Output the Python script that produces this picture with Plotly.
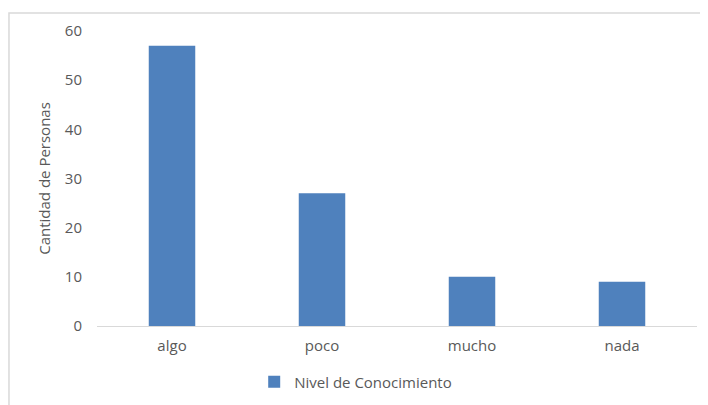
import plotly.graph_objects as go

categories = ["algo", "poco", "mucho", "nada"]
values = [57, 27, 10, 9]
series_name = "Nivel de Conocimiento"
y_title = "Cantidad de Personas"

gray = "#595959"
fs = 15
fig = go.Figure()
fig.add_trace(go.Bar(
    x=categories, y=values, name=series_name,
    marker=dict(color="#4f81bd", line=dict(width=0)),
    width=0.31, showlegend=True,
))

fig.update_layout(
    width=700, height=397,
    margin=dict(l=89, r=11, t=23, b=79, autoexpand=False),
    paper_bgcolor="white", plot_bgcolor="white",
    font=dict(family="'Open Sans', sans-serif", size=fs, color=gray),
    showlegend=True,
    legend=dict(orientation="h", x=0.262, xanchor="left", y=-0.19, yanchor="middle",
                font=dict(size=fs, color=gray), itemwidth=30, bgcolor="rgba(0,0,0,0)"),
    xaxis=dict(showline=True, linecolor="#d9d9d9", linewidth=1, ticks="", automargin=False,
               showgrid=False, tickfont=dict(size=fs, color=gray), ticklabelstandoff=6),
    yaxis=dict(range=[0, 60], dtick=10, showgrid=False, zeroline=False, showline=False,
               automargin=False,
               tickfont=dict(size=fs, color=gray), ticklabelstandoff=14,
               title=dict(text=y_title, font=dict(size=fs, color=gray), standoff=10)),
    shapes=[dict(type="rect", xref="paper", yref="paper",
                 x0=-0.1467, x1=1.0167, y0=-0.35, y1=1.061,
                 line=dict(color="#d9d9d9", width=1.5), fillcolor="rgba(0,0,0,0)", layer="below")],
)

fig.write_html("out.html")
